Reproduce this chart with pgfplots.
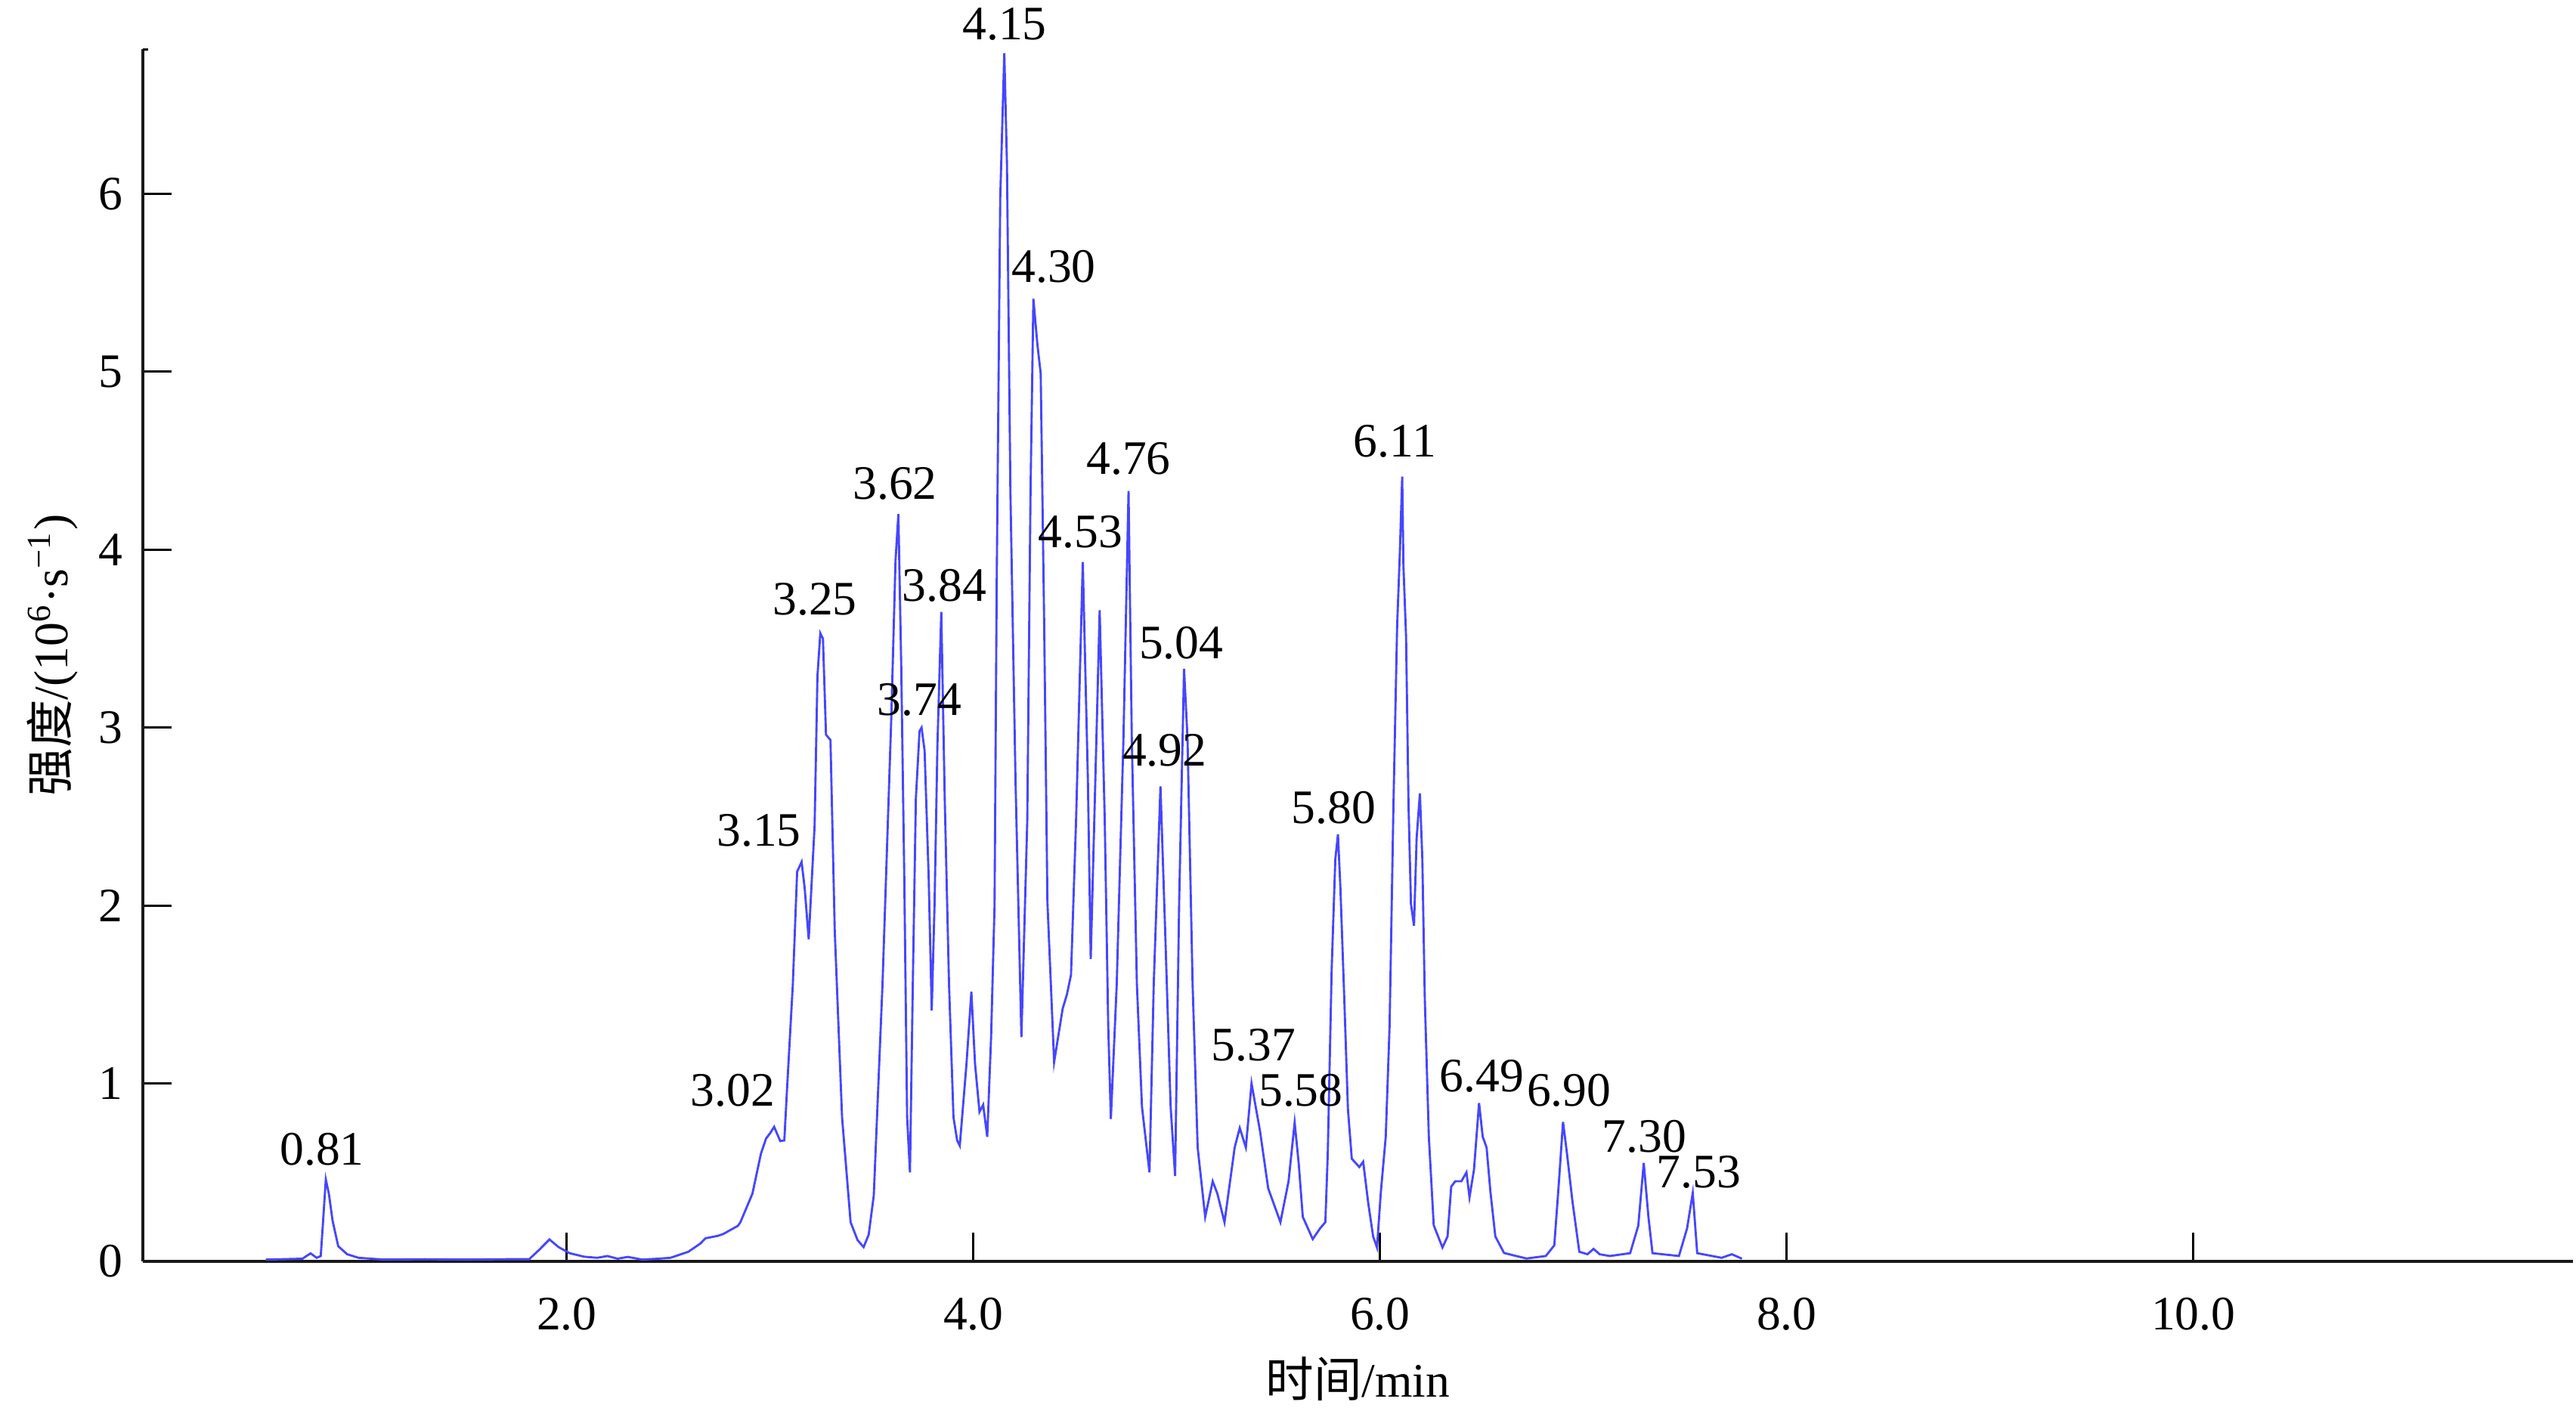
\documentclass[border=0pt]{standalone}
\usepackage{fontspec}
\setmainfont{Liberation Serif}
\newfontfamily\cjk{Noto Sans CJK SC}
\usepackage{pgfplots}
\pgfplotsset{compat=1.18}
\definecolor{trace}{RGB}{70,70,255}
\begin{document}
\begin{tikzpicture}
\begin{axis}[
  at={(29.7pt,31.1pt)}, anchor=south west,
  scale only axis, width=505.7pt, height=252.3pt,
  xmin=-0.0855, xmax=11.868, ymin=0, ymax=6.814,
  axis x line*=bottom, axis y line*=left,
  axis line style={line width=0.6pt, black!90},
  tick align=inside, major tick length=6pt,
  tick style={line width=0.45pt, black},
  xtick={2,4,6,8,10}, xticklabels={2.0,4.0,6.0,8.0,10.0},
  ytick={0,1,2,3,4,5,6},
  extra y ticks={6.81}, extra y tick labels={},
  extra y tick style={major tick length=1.2pt},
  /pgf/number format/assume math mode=true,
  xticklabel style={yshift=-4pt, font=\fontsize{10}{12}\selectfont},
  yticklabel style={xshift=-0.6pt, font=\fontsize{10}{12}\selectfont},
  xlabel={{\cjk 时间}/min},
  ylabel={{\cjk 强度}/(10\textsuperscript{6}·s\textsuperscript{−1})},
  xlabel style={at={(axis description cs:0.5,0)}, anchor=base, yshift=-28.2pt},
  ylabel style={at={(axis description cs:0,0.5)}, anchor=base, yshift=15.6pt},
  clip=false,
]
\addplot[color=trace, line width=0.45pt] coordinates {
(0.52,0.01) (0.60,0.012) (0.70,0.015) (0.74,0.045) (0.77,0.02) (0.79,0.03) (0.80,0.2) (0.815,0.46) (0.83,0.38) (0.848,0.23) (0.876,0.085) (0.92,0.04) (0.976,0.02) (1.1,0.01) (1.3,0.012) (1.5,0.01) (1.7,0.012) (1.815,0.012) (1.86,0.06) (1.915,0.123) (1.96,0.08) (2.014,0.046) (2.086,0.026) (2.15,0.02) (2.2,0.03) (2.25,0.015) (2.3,0.025) (2.372,0.01) (2.45,0.015) (2.51,0.02) (2.598,0.054) (2.657,0.10) (2.683,0.13) (2.742,0.143) (2.77,0.154) (2.842,0.2) (2.854,0.22) (2.913,0.38) (2.955,0.605) (2.98,0.69) (3.0,0.72) (3.02,0.756) (3.05,0.676) (3.07,0.68) (3.083,0.96) (3.112,1.56) (3.133,2.19) (3.155,2.245) (3.17,2.1) (3.19,1.81) (3.219,2.45) (3.233,3.29) (3.247,3.53) (3.26,3.5) (3.275,2.96) (3.297,2.93) (3.318,1.86) (3.354,0.81) (3.396,0.22) (3.43,0.12) (3.46,0.08) (3.485,0.15) (3.51,0.37) (3.553,1.56) (3.596,3.05) (3.617,3.94) (3.631,4.2) (3.645,3.35) (3.66,2.16) (3.674,0.81) (3.688,0.5) (3.702,1.56) (3.717,2.6) (3.735,2.98) (3.745,3.0) (3.76,2.87) (3.78,2.16) (3.795,1.41) (3.809,2.01) (3.823,2.9) (3.842,3.65) (3.859,2.6) (3.88,1.56) (3.902,0.81) (3.92,0.68) (3.933,0.65) (3.966,1.11) (3.99,1.515) (4.008,1.11) (4.03,0.84) (4.048,0.88) (4.068,0.70) (4.087,1.26) (4.104,2.0) (4.115,3.87) (4.132,5.98) (4.152,6.79) (4.165,6.17) (4.182,4.325) (4.207,2.71) (4.236,1.26) (4.265,2.48) (4.281,4.33) (4.295,5.41) (4.315,5.15) (4.331,4.99) (4.348,3.59) (4.364,2.02) (4.397,1.12) (4.439,1.42) (4.46,1.5) (4.48,1.61) (4.505,2.48) (4.538,3.93) (4.563,2.71) (4.577,1.70) (4.605,2.94) (4.621,3.66) (4.646,2.48) (4.663,1.33) (4.676,0.80) (4.705,1.56) (4.738,2.94) (4.763,4.33) (4.779,2.94) (4.804,1.56) (4.829,0.87) (4.866,0.50) (4.887,1.56) (4.92,2.67) (4.945,1.79) (4.97,0.87) (4.992,0.48) (5.012,2.02) (5.036,3.33) (5.053,2.94) (5.078,1.56) (5.103,0.64) (5.14,0.25) (5.177,0.45) (5.2,0.38) (5.235,0.22) (5.285,0.64) (5.31,0.75) (5.34,0.64) (5.368,1.0) (5.41,0.73) (5.45,0.41) (5.51,0.22) (5.55,0.45) (5.58,0.78) (5.60,0.55) (5.62,0.25) (5.669,0.125) (5.706,0.187) (5.731,0.22) (5.743,0.61) (5.762,1.64) (5.78,2.26) (5.793,2.40) (5.805,2.1) (5.824,1.48) (5.842,0.857) (5.861,0.577) (5.898,0.53) (5.917,0.56) (5.942,0.327) (5.966,0.14) (5.985,0.078) (6.004,0.39) (6.028,0.70) (6.047,1.325) (6.066,2.57) (6.084,3.57) (6.097,3.97) (6.109,4.41) (6.115,3.91) (6.128,3.51) (6.14,2.57) (6.152,2.01) (6.167,1.886) (6.18,2.38) (6.196,2.63) (6.208,2.26) (6.22,1.48) (6.24,0.70) (6.264,0.203) (6.307,0.078) (6.332,0.14) (6.35,0.42) (6.37,0.45) (6.40,0.45) (6.425,0.50) (6.44,0.36) (6.462,0.515) (6.487,0.89) (6.505,0.70) (6.524,0.64) (6.543,0.39) (6.567,0.14) (6.61,0.047) (6.72,0.016) (6.815,0.03) (6.857,0.09) (6.88,0.45) (6.9,0.784) (6.92,0.6) (6.946,0.34) (6.98,0.054) (7.02,0.04) (7.05,0.07) (7.08,0.04) (7.13,0.03) (7.23,0.046) (7.27,0.2) (7.297,0.553) (7.32,0.25) (7.34,0.046) (7.47,0.03) (7.51,0.185) (7.538,0.384) (7.55,0.2) (7.56,0.046) (7.68,0.02) (7.73,0.04) (7.78,0.015)
};
\begin{scope}[every node/.style={font=\fontsize{10}{12}\selectfont, inner sep=0pt}]
\node at (axis cs:0.796,0.628) {0.81};
\node at (axis cs:2.816,0.96) {3.02};
\node at (axis cs:2.945,2.42) {3.15};
\node at (axis cs:3.22,3.72) {3.25};
\node at (axis cs:3.614,4.37) {3.62};
\node at (axis cs:3.735,3.155) {3.74};
\node at (axis cs:3.858,3.80) {3.84};
\node at (axis cs:4.153,6.955) {4.15};
\node at (axis cs:4.395,5.59) {4.30};
\node at (axis cs:4.526,4.10) {4.53};
\node at (axis cs:4.763,4.51) {4.76};
\node at (axis cs:5.022,3.475) {5.04};
\node at (axis cs:4.94,2.87) {4.92};
\node at (axis cs:5.772,2.55) {5.80};
\node at (axis cs:6.073,4.61) {6.11};
\node at (axis cs:5.378,1.215) {5.37};
\node at (axis cs:5.61,0.96) {5.58};
\node at (axis cs:6.501,1.04) {6.49};
\node at (axis cs:6.929,0.96) {6.90};
\node at (axis cs:7.30,0.70) {7.30};
\node at (axis cs:7.568,0.50) {7.53};
\end{scope}
\end{axis}
\pgfresetboundingbox
\path[use as bounding box] (0,0) rectangle (536pt,293.6pt);
\end{tikzpicture}
\end{document}
